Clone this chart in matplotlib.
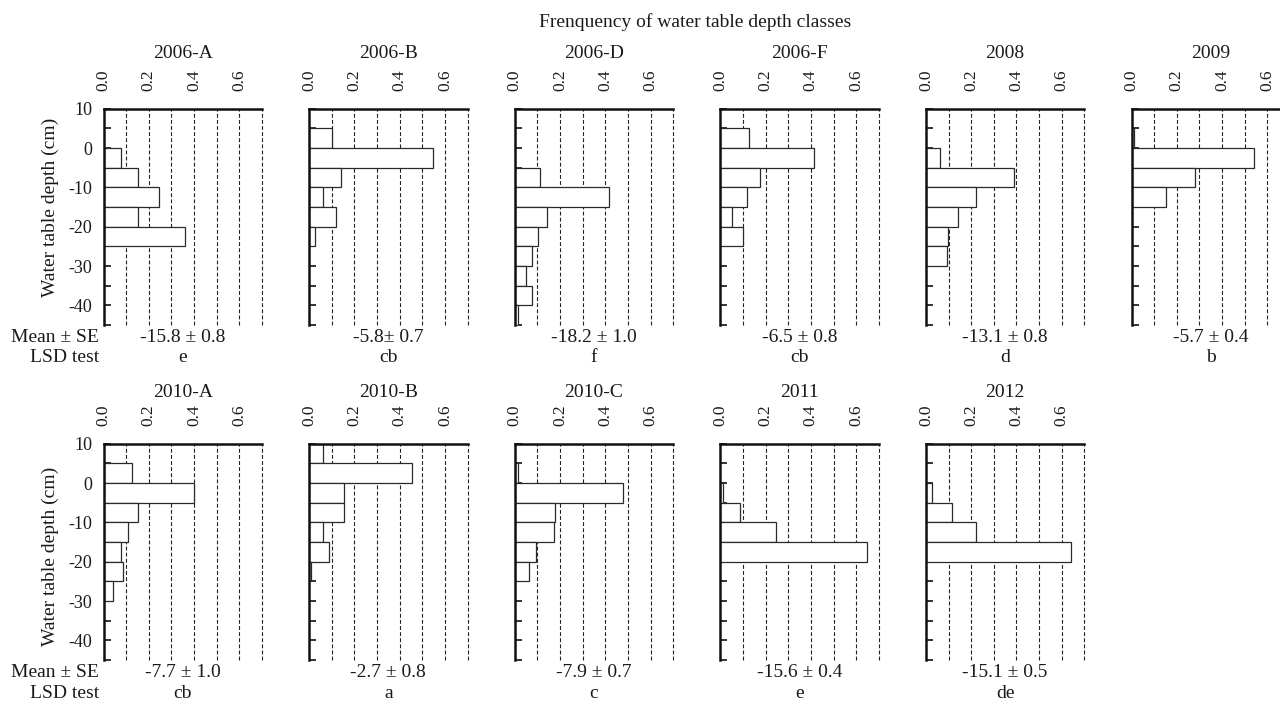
import numpy as np
import matplotlib
matplotlib.use('Agg')
import matplotlib.pyplot as plt
from matplotlib.ticker import MultipleLocator

plt.rcParams['font.family'] = ['Liberation Serif', 'DejaVu Serif']
plt.rcParams['axes.unicode_minus'] = False

# ---------------- data ----------------
# water-table depth classes (top of each 5 cm class, cm)
bin_tops = [10, 5, 0, -5, -10, -15, -20, -25, -30, -35, -40]
bin_size = 5

panel_names = ["2006-A", "2006-B", "2006-D", "2006-F", "2008", "2009",
               "2010-A", "2010-B", "2010-C", "2011", "2012"]

freq_2006A = [0, 0, 0.076, 0.154, 0.244, 0.154, 0.360, 0, 0, 0, 0]
freq_2006B = [0, 0.100, 0.547, 0.139, 0.060, 0.117, 0.024, 0, 0, 0, 0]
freq_2006D = [0, 0, 0, 0.112, 0.417, 0.142, 0.104, 0.075, 0.052, 0.075, 0.015]
freq_2006F = [0, 0.128, 0.412, 0.177, 0.116, 0.050, 0.100, 0, 0, 0, 0]
freq_2008 = [0, 0, 0.064, 0.389, 0.220, 0.142, 0.096, 0.093, 0, 0, 0]
freq_2009 = [0, 0.009, 0.543, 0.282, 0.154, 0, 0, 0, 0, 0, 0]
freq_2010A = [0, 0.128, 0.400, 0.154, 0.106, 0.076, 0.088, 0.040, 0, 0, 0]
freq_2010B = [0.062, 0.453, 0.156, 0.156, 0.060, 0.088, 0.010, 0, 0, 0, 0]
freq_2010C = [0, 0.015, 0.478, 0.180, 0.172, 0.095, 0.065, 0, 0, 0, 0]
freq_2011 = [0, 0, 0.010, 0.088, 0.246, 0.649, 0, 0, 0, 0, 0]
freq_2012 = [0, 0, 0.025, 0.114, 0.220, 0.642, 0, 0, 0, 0, 0]

freqs = [freq_2006A, freq_2006B, freq_2006D, freq_2006F, freq_2008, freq_2009,
         freq_2010A, freq_2010B, freq_2010C, freq_2011, freq_2012]

mean_se = ["-15.8 ± 0.8", "-5.8± 0.7", "-18.2 ± 1.0", "-6.5 ± 0.8", "-13.1 ± 0.8",
           "-5.7 ± 0.4", "-7.7 ± 1.0", "-2.7 ± 0.8", "-7.9 ± 0.7", "-15.6 ± 0.4",
           "-15.1 ± 0.5"]
lsd = ["e", "cb", "f", "cb", "d", "b", "cb", "a", "c", "e", "de"]

x_ticks = [0.0, 0.2, 0.4, 0.6]
x_ticklabels = ["0.0", "0.2", "0.4", "0.6"]
grid_x = [0.1, 0.2, 0.3, 0.4, 0.5, 0.6, 0.7]

# ---------------- layout ----------------
W, H = 1280, 702
fig = plt.figure(figsize=(W / 100, H / 100), dpi=100)

col_left0, col_step, ax_w = 103.5, 205.6, 158.5
row_tops = [108.7, 443.7]
ax_h = 216.3
title_y = [53.3, 392.5]
mean_y = [337.7, 672.5]
lsd_y = [358.0, 693.5]
ylabel_y = [207.5, 556.7]

TXT = '#1a1a1a'
FS = 14

def ftext(x, y, s, **kw):
    fig.text(x / W, 1 - y / H, s, fontsize=kw.pop('fontsize', FS), color=TXT, **kw)

positions = [(0, c) for c in range(6)] + [(1, c) for c in range(5)]

for i, (row, col) in enumerate(positions):
    left = col_left0 + col * col_step
    top = row_tops[row]
    ax = fig.add_axes([left / W, 1 - (top + ax_h) / H, ax_w / W, ax_h / H])

    f = np.array(freqs[i])
    tops = np.array(bin_tops, dtype=float)
    mask = f > 0
    ax.barh(tops[mask] - bin_size / 2, f[mask], height=bin_size, left=0,
            color='white', edgecolor='#2a2a2a', linewidth=0.9, zorder=3)

    ax.vlines(grid_x, -45, 10, colors='#222222', linestyles=(0, (3.5, 2)),
              linewidth=0.8, zorder=1, clip_on=False)

    ax.set_xlim(0, 0.7)
    ax.set_ylim(-45, 10)
    for s in ['right', 'bottom']:
        ax.spines[s].set_visible(False)
    for s in ['left', 'top']:
        ax.spines[s].set_linewidth(1.8)
        ax.spines[s].set_color('#111111')
        ax.spines[s].set_zorder(4)

    ax.xaxis.set_ticks_position('top')
    ax.set_xticks(x_ticks)
    ax.set_xticklabels(x_ticklabels, rotation=90, color=TXT)
    ax.tick_params(axis='x', length=0, pad=12.5, labelsize=12.5)

    ax.yaxis.set_major_locator(MultipleLocator(10))
    ax.yaxis.set_minor_locator(MultipleLocator(5))
    ax.tick_params(axis='y', which='both', direction='in', length=5, width=1.2,
                   color='#111111')
    if col == 0:
        ax.tick_params(axis='y', labelsize=13, pad=8, labelcolor=TXT)
    else:
        ax.tick_params(axis='y', labelleft=False)

    cx = left + ax_w / 2
    ftext(cx, title_y[row], panel_names[i], ha='center', va='center')
    ftext(cx, mean_y[row], mean_se[i], ha='center', va='center')
    ftext(cx, lsd_y[row], lsd[i], ha='center', va='center')

for row in range(2):
    ftext(99, mean_y[row], "Mean ± SE", ha='right', va='center')
    ftext(99, lsd_y[row], "LSD test", ha='right', va='center')
    ftext(50, ylabel_y[row], "Water table depth (cm)", ha='center', va='center',
          rotation=90)

ftext(695, 22, "Frenquency of water table depth classes", ha='center', va='center')

fig.savefig('out.png', dpi=100)
